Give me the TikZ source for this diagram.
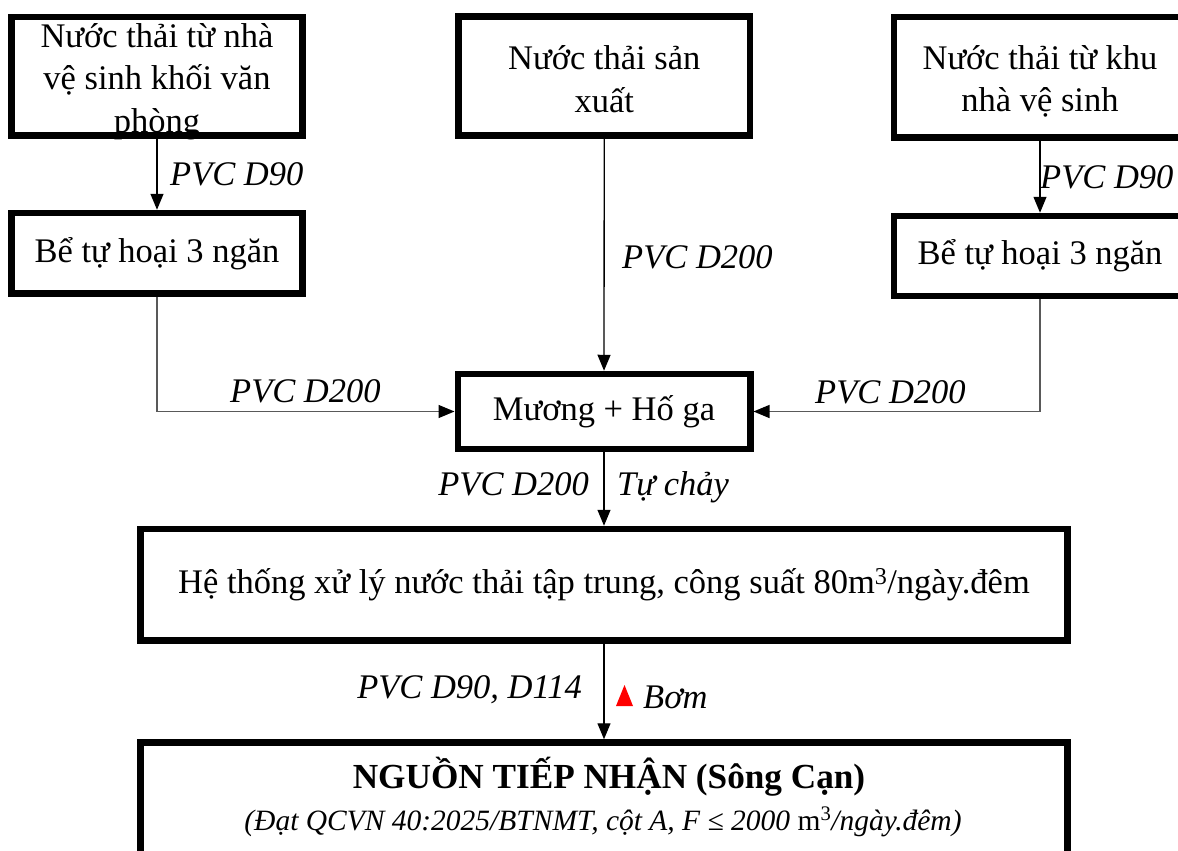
\documentclass[tikz,border=0pt]{standalone}
\usepackage{fontspec}
\setmainfont{Liberation Serif}
\usetikzlibrary{arrows.meta}
\begin{document}
\begin{tikzpicture}[x=1pt,y=-1pt,
  font=\fontsize{34.5}{42.5}\selectfont,
  box/.style={draw, line width=6.5pt, inner sep=0pt, align=center},
  boxtext/.style={inner sep=0pt, align=center},
  tip/.style={-{Triangle[length=16pt,width=13pt,color=black]}},
  flow/.style={line width=1.3pt, tip},
  elbow/.style={flow, draw=black!65},
  lbl/.style={font=\fontsize{34.5}{43}\selectfont\itshape, inner sep=0pt},
  ]
\clip (0,0) rectangle (1178,851);
\fill[white] (0,0) rectangle (1178,851);

% sources (text first, frame on top so the frame covers the descenders)
\node[boxtext] (At) at (157,81.25) {Nước thải từ nhà\\vệ sinh khối văn\\phòng};
\node[box, minimum width=291pt, minimum height=118.5pt] (A) at (157,76.25) {};
\node[boxtext] (Ct) at (604.25,79) {Nước thải sản\\xuất};
\node[box, minimum width=291.5pt, minimum height=119pt] (C) at (604.25,76) {};
\node[boxtext] (Et) at (1040,81.25) {Nước thải từ khu\\nhà vệ sinh};
\node[box, minimum width=292pt, minimum height=120.5pt] (E) at (1040,77.25) {};

% septic tanks
\node[box, minimum width=291pt, minimum height=80.5pt] (B) at (157,253.25)
  {Bể tự hoại 3 ngăn};
\node[box, minimum width=292pt, minimum height=80pt] (F) at (1040,256)
  {Bể tự hoại 3 ngăn};

% collection
\node[box, minimum width=292.5pt, minimum height=75pt] (D) at (604,411.5)
  {Mương + Hố ga};

% treatment plant
\node[box, minimum width=927pt, minimum height=111.5pt] (G) at (604,584.75)
  {Hệ thống xử lý nước thải tập trung, công suất 80m\textsuperscript{3}/ngày.đêm};

% receiving water
\node[box, minimum width=927pt, minimum height=160pt] (H) at (604,822.5) {};
\node[anchor=base, inner sep=0pt, font=\fontsize{35.2}{43}\selectfont\bfseries] (Htitle) at (609,788)
  {NGUỒN TIẾP NHẬN (Sông Cạn)};
\node[anchor=base, inner sep=0pt, font=\fontsize{29.5}{36}\selectfont\itshape] (Hsub) at (603,830)
  {(Đạt QCVN 40:2025/BTNMT, cột A, F ≤ 2000 {\upshape m\textsuperscript{3}}/ngày.đêm)};

% connectors
\draw[flow] (A) -- (B);
\draw[flow] (E.south -| F.north) -- (F);
\draw[flow] (C) -- (D);
\draw[elbow] (B.south) |- (D.west);
\draw[elbow] (F.south) |- (D.east);
\draw[flow] (D) -- (G);
\draw[flow] (G) -- (H);

% pipe labels
\node[lbl, anchor=base west] (lA) at (170,185) {PVC D90};
\node[lbl, anchor=base west] (lE) at (1040,188) {PVC D90};
\node[lbl, anchor=base west] (lC) at (622,268) {PVC D200};
\node[lbl, anchor=base west] (lB) at (230,402) {PVC D200};
\node[lbl, anchor=base west] (lF) at (815,403) {PVC D200};
\node[lbl, anchor=base east] (lD) at (589,495) {PVC D200};
\node[lbl, anchor=base west] (lDr) at (617,495) {Tự chảy};
\node[lbl, anchor=base east] (lG) at (582,698) {PVC D90, D114};
\fill[red] (616,706) -- (633,706) -- (624.5,685) -- cycle;
\node[lbl, anchor=base west] (lP) at (643,708) {Bơm};
\end{tikzpicture}
\end{document}
